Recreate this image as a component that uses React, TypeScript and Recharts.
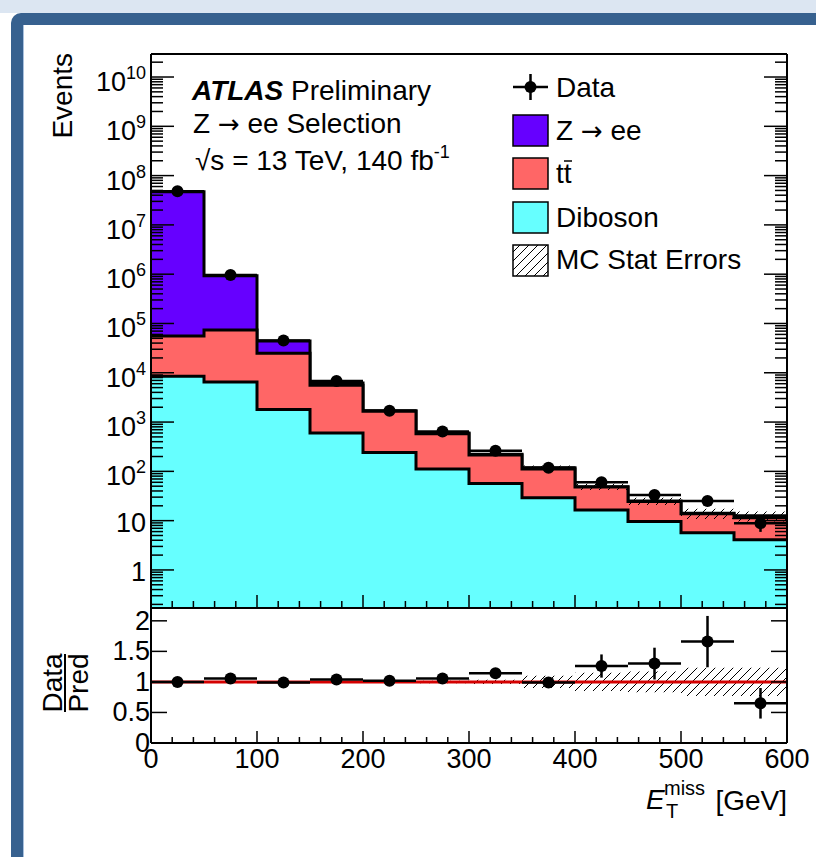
import React from 'react';
import { ComposedChart, Area, Line, Scatter, ErrorBar, XAxis, YAxis } from 'recharts';

// E_T^miss bins [GeV]
const binEdges = [0, 50, 100, 150, 200, 250, 300, 350, 400, 450, 500, 550, 600];
const binCenters = [25, 75, 125, 175, 225, 275, 325, 375, 425, 475, 525, 575];

// MC predictions per bin (events)
const zee = [4.694e7, 856000, 19000, 600, 50, 20, 7, 7, 1, 0.5, 0.3, 1.0];
const ttbar = [47500, 67500, 23200, 5000, 1410, 468, 158, 83, 31.5, 14.9, 8.1, 7.4];
const diboson = [8500, 6500, 1800, 600, 240, 112, 57, 29, 16.5, 9.6, 5.7, 4.1];
const mcStatRel = [0.005, 0.005, 0.005, 0.01, 0.01, 0.02, 0.035, 0.1, 0.15, 0.17, 0.23, 0.23];

// data
const dataCounts = [4.8e7, 9.6e5, 45000, 6800, 1700, 640, 263, 118, 60, 33, 25, 8.9];
const ratioVals = [1.0, 1.055, 0.99, 1.04, 1.02, 1.055, 1.14, 0.99, 1.26, 1.3, 1.66, 0.65];
const ratioErr = [0, 0, 0, 0, 0.01, 0.04, 0.06, 0.09, 0.19, 0.26, 0.42, 0.25];

const xTicks = Array.from({ length: 31 }, (_, i) => i * 20);
const logTicks: number[] = [];
for (let d = -1; d <= 10; d++) for (let m = 1; m <= 9; m++) {
  const v = m * Math.pow(10, d);
  if (v >= 0.17 && v <= 2.9e10) logTicks.push(v);
}
const ratioTicks = [0, 0.5, 1, 1.5, 2];

const FONT = '"Liberation Sans", Arial, Helvetica, sans-serif';

const edgeRows = binEdges.map((x, i) => {
  const j = Math.min(i, 11);
  const dib = diboson[j];
  const tt = dib + ttbar[j];
  const tot = tt + zee[j];
  const e = mcStatRel[j];
  return { x, dib, tt, tot, band: [tot * (1 - e), tot * (1 + e)], rband: [1 - e, 1 + e], one: 1 };
});
const dataPts = binCenters.map((x, i) => ({ x, y: dataCounts[i], ex: 25, ey: Math.sqrt(dataCounts[i]) }));
const ratioPts = binCenters.map((x, i) => ({ x, y: ratioVals[i], ex: 25, ey: ratioErr[i] }));

const isMajorLog = (v: number) => {
  const e = Math.log10(v);
  return Math.abs(e - Math.round(e)) < 1e-6;
};

const LogTickLeft = (p: any) => {
  const { x, y, payload } = p;
  const v = payload.value;
  const major = isMajorLog(v);
  const e = Math.round(Math.log10(v));
  return (
    <g>
      <line x1={x} x2={x + (major ? 23 : 12)} y1={y} y2={y} stroke="#000" strokeWidth={1.5} />
      {major && e === 0 && <text x={x - 5} y={y + 11} textAnchor="end" fontSize={27} fontFamily={FONT}>1</text>}
      {major && e === 1 && <text x={x - 5} y={y + 11} textAnchor="end" fontSize={27} fontFamily={FONT}>10</text>}
      {major && e > 1 && (
        <text x={x - 5} y={y + 14} textAnchor="end" fontSize={27} fontFamily={FONT}>
          10<tspan dy={-12} fontSize={18}>{e}</tspan>
        </text>
      )}
    </g>
  );
};

const LogTickRight = (p: any) => {
  const { x, y, payload } = p;
  const major = isMajorLog(payload.value);
  return <line x1={x} x2={x - (major ? 23 : 12)} y1={y} y2={y} stroke="#000" strokeWidth={1.5} />;
};

const XTickTop = (p: any) => {
  const { x, y, payload } = p;
  const major = payload.value % 100 === 0;
  return <line x1={x} x2={x} y1={y} y2={y + (major ? 13 : 7)} stroke="#000" strokeWidth={1.5} />;
};

const XTickBottomMain = (p: any) => {
  const { x, y, payload } = p;
  const major = payload.value % 100 === 0;
  return <line x1={x} x2={x} y1={y} y2={y - (major ? 13 : 7)} stroke="#000" strokeWidth={1.5} />;
};

const XTickBottomRatio = (p: any) => {
  const { x, y, payload } = p;
  const major = payload.value % 100 === 0;
  return (
    <g>
      <line x1={x} x2={x} y1={y} y2={y - (major ? 12 : 6)} stroke="#000" strokeWidth={1.5} />
      {major && (
        <text x={x} y={y + 25} textAnchor="middle" fontSize={27} fontFamily={FONT}>{payload.value}</text>
      )}
    </g>
  );
};

const RatioTickLeft = (p: any) => {
  const { x, y, payload } = p;
  return (
    <g>
      <line x1={x} x2={x + 16} y1={y} y2={y} stroke="#000" strokeWidth={1.5} />
      <text x={x - 1} y={y + 9} textAnchor="end" fontSize={27} fontFamily={FONT}>{payload.value}</text>
    </g>
  );
};

const RatioTickRight = (p: any) => {
  const { x, y } = p;
  return <line x1={x} x2={x - 16} y1={y} y2={y} stroke="#000" strokeWidth={1.5} />;
};

const axisLine = { stroke: '#000', strokeWidth: 2 };

const Hatch = ({ id }: { id: string }) => (
  <defs>
    <pattern id={id} patternUnits="userSpaceOnUse" width={9} height={9}>
      <path d="M-2,2 l4,-4 M0,9 l9,-9 M7,11 l4,-4" stroke="#000" strokeWidth={1} />
    </pattern>
  </defs>
);

const Dot = (p: any) => <circle cx={p.cx} cy={p.cy} r={6} fill="#000" />;

const Arrow = () => <tspan fontFamily='"DejaVu Sans", sans-serif' fontSize={26}>→</tspan>;

export default function App() {
  return (
    <div style={{ position: 'absolute', left: 0, top: 0, width: 816, height: 857, background: '#fff', overflow: 'hidden', fontFamily: FONT }}>
      <div style={{ position: 'absolute', left: 0, top: 0, width: 816, height: 13, background: '#dce6f2' }} />
      <div style={{ position: 'absolute', left: 11, top: 13, width: 900, height: 900, background: '#37618f', borderTopLeftRadius: 10 }} />
      <div style={{ position: 'absolute', left: 23, top: 25, width: 900, height: 900, background: '#fff', borderLeft: '1px solid #a9c1de', boxSizing: 'border-box' }} />

      <div style={{ position: 'absolute', left: 0, top: 0 }}>
        <ComposedChart width={816} height={616} data={edgeRows} margin={{ top: 44, left: 91, right: 19, bottom: 4 }}>
          <Hatch id="hatchMain" />
          <XAxis xAxisId="b" dataKey="x" type="number" domain={[0, 600]} ticks={xTicks} interval={0} allowDataOverflow
            height={4} tickSize={0} tickMargin={0} axisLine={axisLine} tickLine={false} tick={<XTickBottomMain />} />
          <XAxis xAxisId="t" orientation="top" type="number" domain={[0, 600]} ticks={xTicks} interval={0} allowDataOverflow
            height={10} tickSize={0} tickMargin={0} axisLine={axisLine} tickLine={false} tick={<XTickTop />} />
          <YAxis yAxisId="l" type="number" scale="log" domain={[0.169, 2.93e10]} ticks={logTicks} interval={0} allowDataOverflow
            width={60} tickSize={0} tickMargin={0} axisLine={axisLine} tickLine={false} tick={<LogTickLeft />} />
          <YAxis yAxisId="r" orientation="right" type="number" scale="log" domain={[0.169, 2.93e10]} ticks={logTicks} interval={0} allowDataOverflow
            width={10} tickSize={0} tickMargin={0} axisLine={axisLine} tickLine={false} tick={<LogTickRight />} />
          <Area xAxisId="b" yAxisId="l" type="stepAfter" dataKey="tot" baseValue={0.169} fill="#6600ff" fillOpacity={1} stroke="#000" strokeWidth={3} isAnimationActive={false} />
          <Area xAxisId="b" yAxisId="l" type="stepAfter" dataKey="tt" baseValue={0.169} fill="#ff6666" fillOpacity={1} stroke="#000" strokeWidth={3} isAnimationActive={false} />
          <Area xAxisId="b" yAxisId="l" type="stepAfter" dataKey="dib" baseValue={0.169} fill="#66ffff" fillOpacity={1} stroke="#000" strokeWidth={3} isAnimationActive={false} />
          <Area xAxisId="b" yAxisId="l" type="stepAfter" dataKey="band" fill="url(#hatchMain)" fillOpacity={1} stroke="none" isAnimationActive={false} />
          <Scatter xAxisId="b" yAxisId="l" data={dataPts} dataKey="y" shape={<Dot />} isAnimationActive={false}>
            <ErrorBar dataKey="ex" direction="x" width={0} stroke="#000" strokeWidth={2.5} isAnimationActive={false} />
            <ErrorBar dataKey="ey" direction="y" width={0} stroke="#000" strokeWidth={2.5} isAnimationActive={false} />
          </Scatter>
        </ComposedChart>
      </div>

      <div style={{ position: 'absolute', left: 0, top: 600 }}>
        <ComposedChart width={816} height={257} data={edgeRows} margin={{ top: 8, left: 91, right: 19, bottom: 74 }}>
          <Hatch id="hatchRatio" />
          <XAxis xAxisId="b" dataKey="x" type="number" domain={[0, 600]} ticks={xTicks} interval={0} allowDataOverflow
            height={40} tickSize={0} tickMargin={0} axisLine={axisLine} tickLine={false} tick={<XTickBottomRatio />} />
          <YAxis yAxisId="l" type="number" domain={[0, 2.21]} ticks={ratioTicks} interval={0} allowDataOverflow
            width={60} tickSize={0} tickMargin={0} axisLine={axisLine} tickLine={false} tick={<RatioTickLeft />} />
          <YAxis yAxisId="r" orientation="right" type="number" domain={[0, 2.21]} ticks={ratioTicks} interval={0} allowDataOverflow
            width={10} tickSize={0} tickMargin={0} axisLine={axisLine} tickLine={false} tick={<RatioTickRight />} />
          <Area xAxisId="b" yAxisId="l" type="stepAfter" dataKey="rband" fill="url(#hatchRatio)" fillOpacity={1} stroke="none" isAnimationActive={false} />
          <Line xAxisId="b" yAxisId="l" type="linear" dataKey="one" stroke="#d40000" strokeWidth={3} dot={false} isAnimationActive={false} />
          <Scatter xAxisId="b" yAxisId="l" data={ratioPts} dataKey="y" shape={<Dot />} isAnimationActive={false}>
            <ErrorBar dataKey="ex" direction="x" width={0} stroke="#000" strokeWidth={2.5} isAnimationActive={false} />
            <ErrorBar dataKey="ey" direction="y" width={0} stroke="#000" strokeWidth={2.5} isAnimationActive={false} />
          </Scatter>
        </ComposedChart>
      </div>

      <svg width={816} height={857} style={{ position: 'absolute', left: 0, top: 0, pointerEvents: 'none' }} fontFamily={FONT}>
        <defs>
          <pattern id="hatchLeg" patternUnits="userSpaceOnUse" width={9} height={9}>
            <path d="M-2,2 l4,-4 M0,9 l9,-9 M7,11 l4,-4" stroke="#000" strokeWidth={1} />
          </pattern>
        </defs>
        <text transform="translate(72,53) rotate(-90)" textAnchor="end" fontSize={28}>Events</text>
        <text x={192} y={100} fontSize={28}>
          <tspan fontWeight="bold" fontStyle="italic">ATLAS</tspan> Preliminary
        </text>
        <text x={193} y={133} fontSize={28}>Z <Arrow /> ee Selection</text>
        <text x={195} y={170} fontSize={28}>
          √s = 13 TeV, 140 fb<tspan dy={-12} fontSize={18}>-1</tspan>
        </text>

        <line x1={513} x2={548} y1={87} y2={87} stroke="#000" strokeWidth={2.5} />
        <line x1={530.5} x2={530.5} y1={74} y2={100} stroke="#000" strokeWidth={2.5} />
        <circle cx={530.5} cy={87} r={6} fill="#000" />
        <text x={556} y={97} fontSize={28}>Data</text>
        <rect x={513} y={115} width={35} height={31} fill="#6600ff" stroke="#000" strokeWidth={1.5} />
        <text x={556} y={140} fontSize={28}>Z <Arrow /> ee</text>
        <rect x={513} y={158} width={35} height={31} fill="#ff6666" stroke="#000" strokeWidth={1.5} />
        <text x={556} y={183} fontSize={28}>tt</text>
        <line x1={564} x2={572} y1={161} y2={161} stroke="#000" strokeWidth={1.5} />
        <rect x={513} y={202} width={35} height={31} fill="#66ffff" stroke="#000" strokeWidth={1.5} />
        <text x={556} y={227} fontSize={28}>Diboson</text>
        <rect x={513} y={245} width={35} height={31} fill="url(#hatchLeg)" stroke="#000" strokeWidth={1.5} />
        <text x={556} y={269} fontSize={28}>MC Stat Errors</text>

        <text transform="translate(62,683) rotate(-90)" textAnchor="middle" fontSize={28}>Data</text>
        <line x1={65} x2={65} y1={654} y2={712} stroke="#000" strokeWidth={2} />
        <text transform="translate(88,683) rotate(-90)" textAnchor="middle" fontSize={28}>Pred</text>

        <text x={646} y={809} fontSize={28} fontStyle="italic">E</text>
        <text x={664} y={795} fontSize={20}>miss</text>
        <text x={666} y={818} fontSize={20}>T</text>
        <text x={787} y={810} textAnchor="end" fontSize={28}>[GeV]</text>
      </svg>
    </div>
  );
}
